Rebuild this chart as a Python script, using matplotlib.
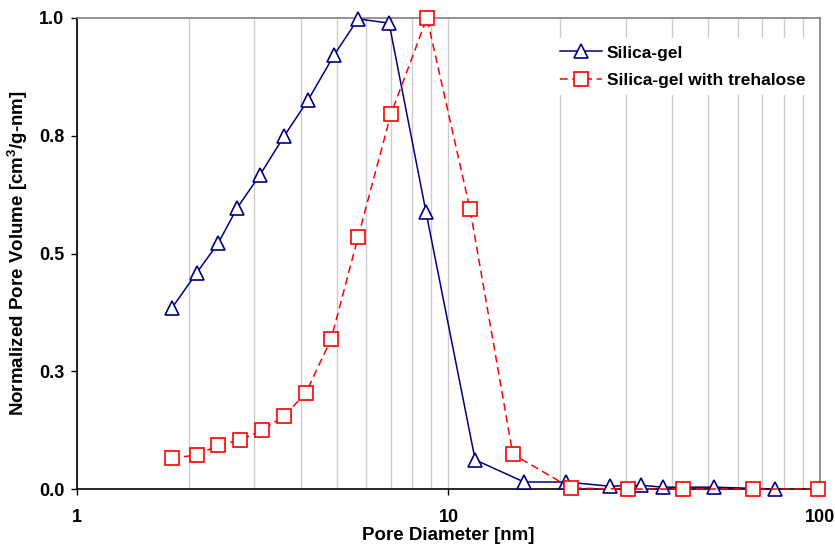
import matplotlib

matplotlib.use("Agg")
import matplotlib.pyplot as plt
from matplotlib.ticker import FixedLocator, LogLocator, NullFormatter

plt.rcParams["font.family"] = ["Liberation Sans", "DejaVu Sans"]
plt.rcParams["font.weight"] = "bold"
plt.rcParams["mathtext.fontset"] = "custom"
plt.rcParams["mathtext.bf"] = "Liberation Sans:bold"
plt.rcParams["mathtext.rm"] = "Liberation Sans:bold"

# Silica-gel (triangles)
gel_d = [1.80, 2.10, 2.40, 2.70, 3.11, 3.61, 4.19, 4.92, 5.71, 6.92, 8.70,
         11.8, 15.97, 20.7, 27.2, 33.0, 37.8, 51.8, 75.7]
gel_v = [0.384, 0.459, 0.522, 0.597, 0.667, 0.749, 0.826, 0.921, 0.998, 0.989, 0.588,
         0.062, 0.015, 0.015, 0.006, 0.008, 0.004, 0.004, 0.0]

# Silica-gel with trehalose (squares)
tre_d = [1.80, 2.10, 2.40, 2.75, 3.15, 3.61, 4.13, 4.83, 5.71, 7.0, 8.75,
         11.43, 14.9, 21.4, 30.4, 42.8, 66.0, 98.8]
tre_v = [0.066, 0.072, 0.093, 0.104, 0.125, 0.155, 0.204, 0.318, 0.535, 0.796, 1.0,
         0.594, 0.074, 0.002, 0.0, 0.0, 0.0, 0.0]

y_ticks = [0.0, 0.25, 0.5, 0.75, 1.0]
y_labels = ["0.0", "0.3", "0.5", "0.8", "1.0"]

fig = plt.figure(figsize=(8.35, 5.44), dpi=100)
ax = fig.add_axes([0.0922, 0.101, 0.8898, 0.866])

ax.plot(gel_d, gel_v, color="#000080", lw=1.1, marker="^", ms=10,
        mfc="white", mec="#000080", mew=1.2, label="Silica-gel", clip_on=False, zorder=3)
ax.plot(tre_d, tre_v, color="#FF0000", lw=1.1, ls=(0, (5, 3)), marker="s", ms=9.5,
        mfc="white", mec="#FF0000", mew=1.2, label="Silica-gel with trehalose",
        clip_on=False, zorder=4)

ax.set_xscale("log")
ax.set_xlim(1, 100)
ax.set_ylim(0, 1)
ax.xaxis.set_major_locator(FixedLocator([1, 10, 100]))
ax.set_xticklabels(["1", "10", "100"])
ax.xaxis.set_minor_locator(LogLocator(base=10, subs=range(2, 10)))
ax.xaxis.set_minor_formatter(NullFormatter())
ax.tick_params(axis="x", which="minor", length=0)
ax.tick_params(axis="both", which="major", labelsize=13, length=4, width=1)
ax.tick_params(axis="x", which="major", pad=10)
ax.tick_params(axis="y", which="major", pad=5)
ax.set_yticks(y_ticks)
ax.set_yticklabels(y_labels)
ax.grid(True, axis="x", which="both", color="#cccccc", lw=1)

for side in ("left", "bottom"):
    ax.spines[side].set_color("black")
    ax.spines[side].set_linewidth(1.2)
for side in ("top", "right"):
    ax.spines[side].set_color("#808080")
    ax.spines[side].set_linewidth(1.2)

ax.set_xlabel("Pore Diameter [nm]", fontsize=13.5, fontweight="bold", va="center")
ax.xaxis.set_label_coords(0.5, -46 / 471)
ax.set_ylabel(r"Normalized Pore Volume [cm$^{\mathbf{3}}$/g-nm]", fontsize=13.5,
              fontweight="bold", va="center")
ax.yaxis.set_label_coords(-59 / 743, 0.5)

leg = ax.legend(loc="upper left", bbox_to_anchor=(0.629, 0.975), frameon=True,
                fancybox=False, framealpha=1, edgecolor="none", facecolor="white",
                prop={"weight": "bold", "size": 12.5}, handlelength=2.4,
                handletextpad=0.3, labelspacing=0.7, borderpad=0.4)

fig.savefig("out.png", dpi=100)
